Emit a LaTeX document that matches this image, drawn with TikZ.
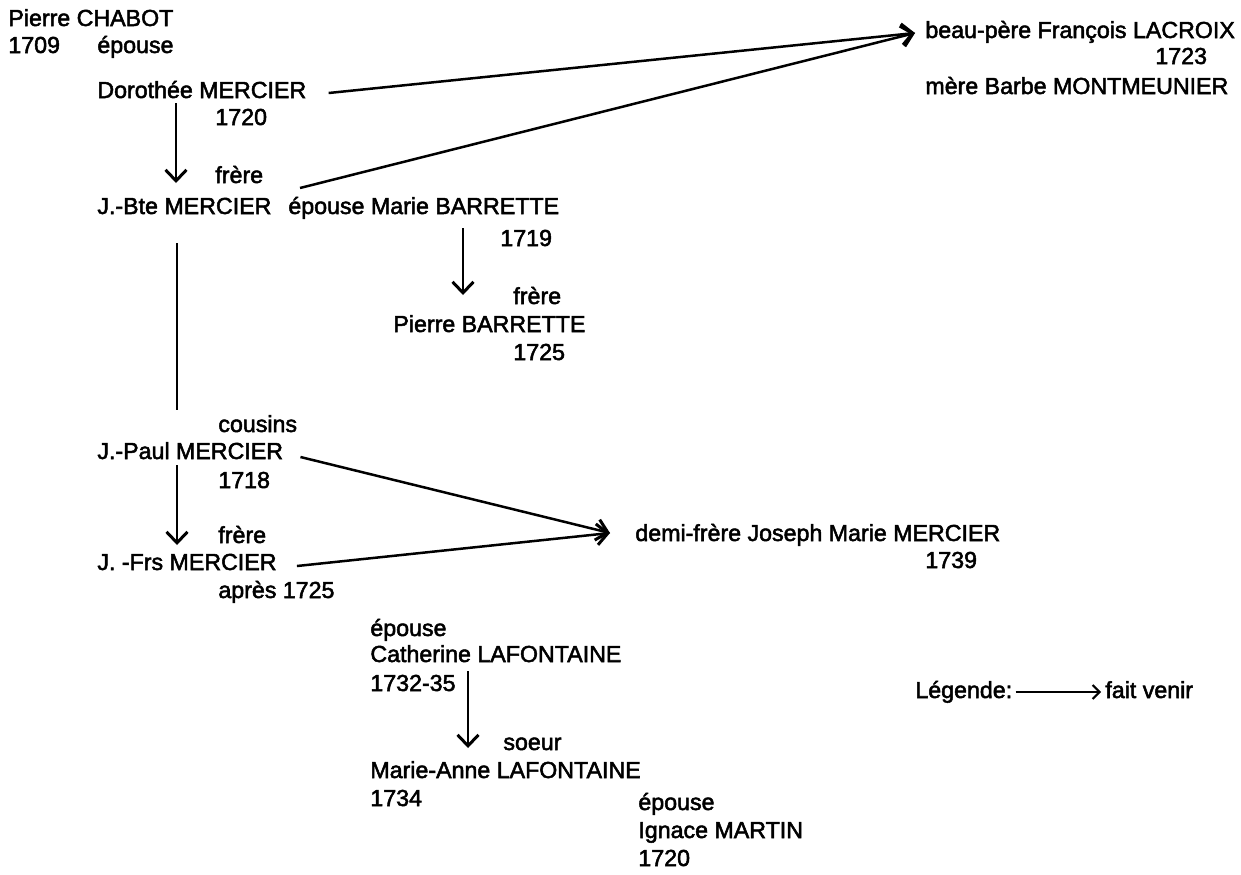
\documentclass[tikz,border=0pt]{standalone}
\usepackage{fontspec}
\setmainfont{Liberation Sans}[FakeBold=2.2]
\usepackage{tikz}
\usetikzlibrary{
  positioning,
  calc,
  arrows.meta
}

\begin{document}
\begin{tikzpicture}[x=0.5pt,y=-0.5pt,
  pers/.style={anchor=base west,inner sep=0pt,font=\fontsize{11.6}{14}\selectfont},
  vient/.style={-{Straight Barb[length=5.5pt,width=10.5pt,line width=1.5pt]},line width=1.25pt},
  trait/.style={line width=1.25pt},
  leg/.style={-{Straight Barb[length=3.5pt,width=7pt,line width=1pt]},line width=0.8pt}]
  \useasboundingbox (0,0) rectangle (1241,874);
  % famille CHABOT / MERCIER
  \node[pers] (chabot) at (8,26) {Pierre CHABOT};
  \node[pers] (an1709) at (8,53) {1709};
  \node[pers] (epouse1) at (97,53) {épouse};
  \node[pers] (dorothee) at (97,98) {Dorothée MERCIER};
  \node[pers] (d1720) at (215,125) {1720};
  \node[pers] (frere1) at (215,183) {frère};
  \node[pers] (jbte) at (97,214) {J.-Bte MERCIER};
  \node[pers] (epmarie) at (288,214) {épouse Marie BARRETTE};
  \node[pers] (m1719) at (500,246) {1719};
  \node[pers] (frere2) at (513,304) {frère};
  \node[pers] (pbarrette) at (393,332) {Pierre BARRETTE};
  \node[pers] (p1725) at (513,360) {1725};
  % LACROIX
  \node[pers] (lacroix) at (925,38) {beau-père François LACROIX};
  \node[pers] (l1723) at (1155,64) {1723};
  \node[pers] (montmeunier) at (925,94) {mère Barbe MONTMEUNIER};
  % cousins
  \node[pers] (cousins) at (218,432) {cousins};
  \node[pers] (jpaul) at (97,459) {J.-Paul MERCIER};
  \node[pers] (jp1718) at (218,488) {1718};
  \node[pers] (frere3) at (218,543) {frère};
  \node[pers] (jfrs) at (97,570) {J. -Frs MERCIER};
  \node[pers] (apres) at (218,598) {après 1725};
  \node[pers] (demifrere) at (635,541) {demi-frère Joseph Marie MERCIER};
  \node[pers] (d1739) at (925,568) {1739};
  % LAFONTAINE / MARTIN
  \node[pers] (epouse3) at (370,636) {épouse};
  \node[pers] (catherine) at (370,662) {Catherine LAFONTAINE};
  \node[pers] (c1732) at (370,691) {1732-35};
  \node[pers] (soeur) at (503,750) {soeur};
  \node[pers] (marieanne) at (370,778) {Marie-Anne LAFONTAINE};
  \node[pers] (m1734) at (370,806) {1734};
  \node[pers] (epouse4) at (638,810) {épouse};
  \node[pers] (ignace) at (638,838) {Ignace MARTIN};
  \node[pers] (i1720) at (638,866) {1720};
  % légende
  \node[pers] (legende) at (915,698) {Légende:};
  \node[pers] (faitvenir) at (1105,698) {fait venir};
  % flèches
  \draw[vient] ($(dorothee.base east)+(22,-5)$) -- ($(lacroix.base west)+(-10,-5)$);
  \draw[vient] ($(epmarie.base west)+(12,-26)$) -- ($(lacroix.base west)+(-10,-5)$);
  \draw[vient] ($(dorothee.base west)+(79,5)$) -- ($(jbte.base west)+(79,-31)$);
  \draw[vient] ($(epmarie.base west)+(175,14)$) -- ($(pbarrette.base west)+(70,-37)$);
  \draw[trait] ($(jbte.base west)+(80,29)$) -- ($(jpaul.base west)+(80,-49)$);
  \draw[vient] ($(jpaul.base west)+(80,6)$) -- ($(jfrs.base west)+(80,-25)$);
  \draw[vient] ($(jpaul.base east)+(17,-2)$) -- ($(demifrere.base west)+(-25,-8)$);
  \draw[vient] ($(jfrs.base east)+(20,-4)$) -- ($(demifrere.base west)+(-25,-8)$);
  \draw[vient] ($(catherine.base west)+(98,9)$) -- ($(marieanne.base west)+(98,-30)$);
  \draw[leg] ($(legende.base east)+(3,-6)$) -- ($(faitvenir.base west)+(-4,-6)$);
\end{tikzpicture}
\end{document}
